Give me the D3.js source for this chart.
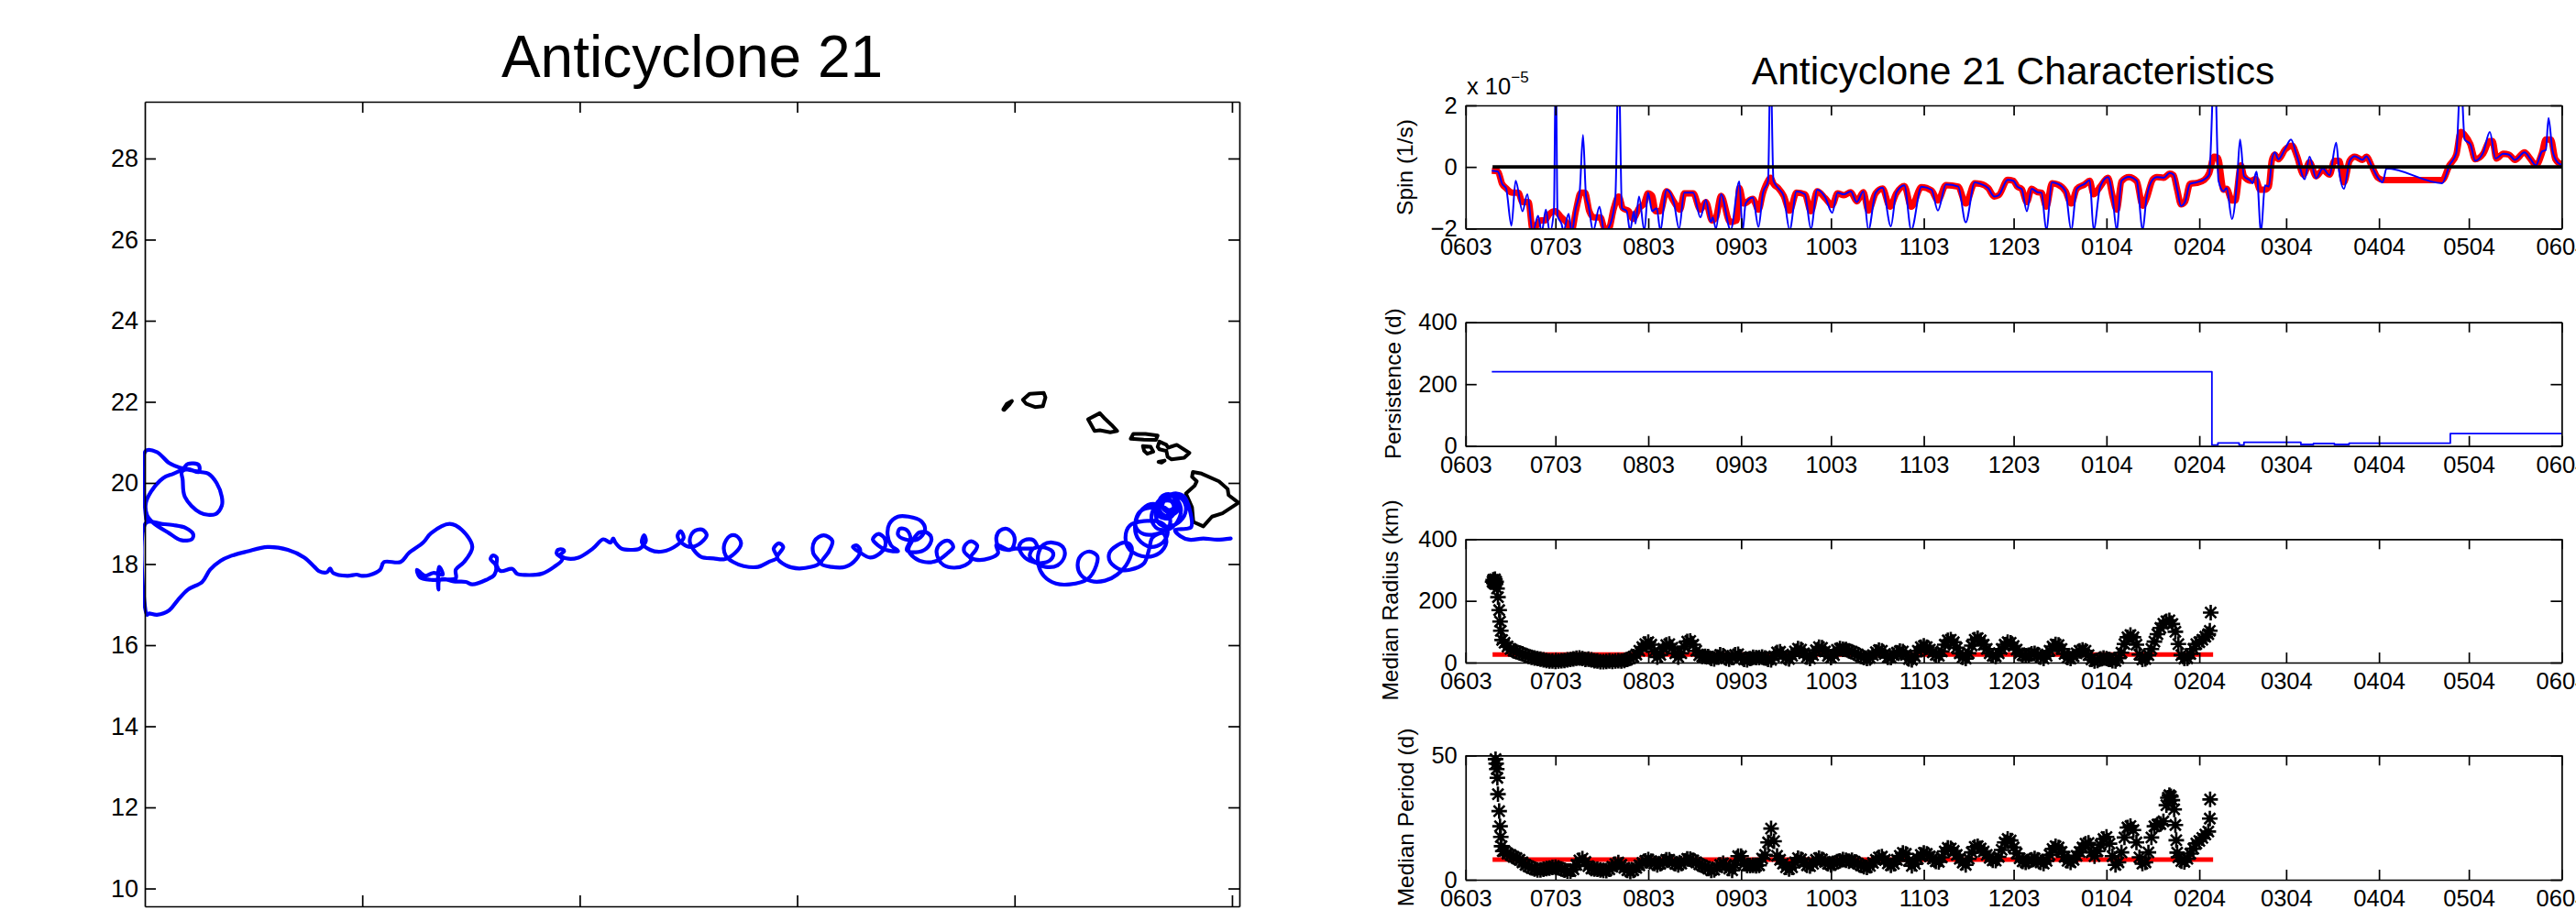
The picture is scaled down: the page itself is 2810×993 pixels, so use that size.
<!DOCTYPE html>
<html>
<head>
<meta charset="utf-8">
<script src="https://cdnjs.cloudflare.com/ajax/libs/d3/7.8.5/d3.min.js"></script>
<style>
  html, body { margin: 0; padding: 0; background: #fff; }
  svg { display: block; }
  text { font-family: "Liberation Sans", Arial, sans-serif; fill: #000; }
  .tick text { font-family: "Liberation Sans", Arial, sans-serif; font-size: 25.5px; }
  .map-axis .tick text { font-size: 27px; }
  .domain, .tick line { stroke: #000; stroke-width: 1.7px; }
</style>
</head>
<body>
<script>
// eddy track, degrees lon / lat, east end first
var trackLon = [-155.03,-155.34,-155.66,-155.98,-156.19,-156.31,-156.06,-155.94,-155.97,-156.10,-156.27,-156.51,-156.67,-156.75,-156.67,-156.43,-156.19,-156.06,-156.14,-156.39,-156.61,-156.79,-156.85,-156.71,-156.43,-156.21,-156.19,-156.35,-156.59,-156.75,-156.67,-156.43,-156.29,-156.43,-156.67,-156.40,-156.22,-156.26,-156.47,-156.62,-156.70,-156.60,-156.42,-156.30,-156.32,-156.47,-156.60,-156.56,-156.40,-156.34,-156.44,-156.58,-157.07,-157.19,-157.21,-157.03,-156.75,-156.47,-156.43,-156.59,-156.87,-157.11,-157.23,-157.15,-156.87,-156.59,-156.48,-156.63,-157.03,-157.35,-157.45,-157.35,-156.99,-156.67,-156.51,-156.59,-156.83,-156.91,-157.03,-157.35,-157.56,-157.80,-157.82,-157.64,-157.44,-157.31,-157.39,-157.64,-157.92,-158.24,-158.48,-158.55,-158.48,-158.28,-158.10,-158.12,-158.32,-158.73,-159.05,-159.33,-159.45,-159.45,-159.33,-159.13,-158.89,-158.85,-159.01,-159.29,-159.53,-159.65,-159.57,-159.37,-159.13,-159.13,-159.33,-159.65,-159.85,-159.89,-159.77,-159.57,-159.49,-159.98,-160.18,-160.36,-160.42,-160.34,-160.18,-160.02,-160.02,-160.10,-160.42,-160.38,-160.58,-160.90,-161.00,-160.89,-160.86,-161.00,-161.14,-161.16,-161.00,-161.14,-161.39,-161.63,-161.75,-161.79,-161.67,-161.51,-161.41,-161.55,-161.79,-162.07,-162.31,-162.44,-162.35,-162.19,-161.99,-161.91,-162.03,-162.27,-162.48,-162.39,-162.48,-162.64,-162.68,-162.52,-162.23,-162.06,-162.15,-162.44,-162.68,-162.88,-162.92,-162.84,-162.68,-162.96,-163.14,-163.26,-163.14,-163.00,-162.98,-163.10,-163.32,-163.56,-163.72,-163.64,-163.55,-163.64,-163.89,-164.21,-164.45,-164.27,-164.19,-164.39,-164.60,-164.63,-164.49,-164.94,-165.26,-165.46,-165.32,-165.42,-165.54,-165.46,-165.66,-165.90,-166.23,-166.47,-166.64,-166.68,-166.55,-166.39,-166.29,-166.43,-166.67,-166.92,-167.21,-167.38,-167.47,-167.38,-167.19,-167.08,-167.21,-167.44,-167.63,-167.75,-167.68,-167.61,-167.77,-168.10,-168.38,-168.57,-168.52,-168.48,-168.62,-168.81,-169.04,-169.18,-169.23,-169.29,-169.46,-169.70,-170.03,-170.31,-170.45,-170.36,-170.39,-170.50,-170.53,-170.40,-170.59,-170.88,-171.25,-171.44,-171.55,-171.82,-171.91,-171.91,-172.00,-172.05,-171.93,-171.96,-172.15,-172.47,-172.62,-172.90,-173.13,-173.23,-173.25,-173.26,-173.23,-173.15,-173.37,-173.56,-173.74,-173.68,-173.42,-173.09,-172.85,-172.85,-172.66,-172.47,-172.71,-172.99,-173.42,-173.60,-173.93,-174.12,-174.50,-174.59,-174.83,-175.01,-175.13,-175.34,-175.67,-175.74,-175.81,-176.00,-176.10,-176.33,-176.71,-177.18,-177.65,-178.02,-178.26,-178.50,-178.68,-179.01,-179.25,-179.44,-179.72,-179.91,-179.95,-179.97,-179.62,-179.34,-179.06,-178.89,-178.92,-179.17,-179.44,-179.81,-179.95,-179.98,-179.86,-179.58,-179.34,-179.13,-179.01,-178.76,-178.76,-179.01,-179.15,-179.13,-179.08,-178.73,-178.38,-178.23,-178.23,-178.35,-178.54,-178.73,-179.20,-179.44,-179.72,-179.98,-179.97];
var trackLat = [18.63,18.60,18.63,18.60,18.69,18.84,18.87,18.91,19.33,19.66,19.74,19.66,19.48,19.21,18.99,18.93,19.06,19.33,19.59,19.70,19.61,19.39,19.10,18.87,18.87,19.14,19.44,19.66,19.63,19.44,19.17,19.14,19.36,19.59,19.55,19.72,19.50,19.30,19.18,19.25,19.45,19.68,19.72,19.55,19.35,19.28,19.40,19.55,19.55,19.40,19.33,19.40,19.33,19.17,18.91,18.74,18.74,18.87,19.14,19.40,19.48,19.29,18.95,18.61,18.42,18.53,18.80,19.02,19.06,18.95,18.65,18.35,18.18,18.27,18.53,18.76,18.65,18.35,18.01,17.86,17.86,18.05,18.27,18.46,18.53,18.42,18.05,17.74,17.59,17.58,17.74,17.97,18.20,18.31,18.20,17.97,17.63,17.50,17.52,17.71,17.97,18.27,18.48,18.53,18.42,18.20,17.97,17.93,18.05,18.20,18.38,18.42,18.31,18.16,18.03,18.08,18.27,18.46,18.59,18.59,18.42,18.38,18.35,18.42,18.65,18.82,18.87,18.72,18.46,18.35,18.47,18.27,18.14,18.11,18.18,18.35,18.46,18.56,18.46,18.31,18.11,17.97,17.91,17.97,18.12,18.35,18.53,18.57,18.42,18.26,18.08,18.05,18.16,18.35,18.57,18.78,18.76,18.61,18.38,18.29,18.35,18.61,18.84,18.87,18.72,18.61,18.61,18.84,19.06,19.17,19.17,18.99,18.72,18.46,18.32,18.35,18.46,18.61,18.74,18.65,18.42,18.26,18.16,18.29,18.42,18.46,18.35,18.12,17.93,17.93,18.01,18.31,18.57,18.71,18.57,18.27,18.03,17.89,17.97,18.16,18.42,18.51,18.38,18.16,18.05,17.93,17.95,18.05,18.20,18.46,18.69,18.69,18.51,18.27,18.12,18.14,18.18,18.35,18.57,18.80,18.85,18.72,18.53,18.42,18.50,18.69,18.81,18.65,18.46,18.31,18.35,18.53,18.71,18.57,18.38,18.35,18.38,18.53,18.63,18.53,18.61,18.38,18.16,18.14,18.23,18.31,18.36,18.35,18.26,18.12,17.93,17.76,17.73,17.76,17.88,17.83,17.97,18.16,18.21,18.12,17.97,17.74,17.61,17.50,17.56,17.57,17.63,17.59,17.37,17.59,17.93,17.74,17.78,17.71,17.86,17.68,17.61,17.62,17.65,17.86,18.05,18.42,18.84,18.99,18.76,18.53,18.27,18.05,18.05,17.86,17.73,17.71,17.74,17.71,17.78,17.89,17.80,17.83,17.93,18.16,18.35,18.42,18.31,18.20,18.08,17.86,17.56,17.37,17.10,16.86,16.75,16.78,16.75,19.02,18.99,18.96,18.89,18.74,18.61,18.59,18.76,19.02,19.21,19.48,19.78,20.12,20.23,20.34,20.47,20.44,20.27,20.34,20.27,20.08,19.66,19.27,19.23,19.44,19.66,20.00,20.23,20.27,20.38,20.49,20.76,20.79,19.10];

// coastlines: Niihau, Kauai, Oahu, Molokai, Lanai, Maui, Kahoolawe, Hawaii
var islandLons = [
  [-160.26,-160.18,-160.06,-160.12,-160.24],
  [-159.81,-159.65,-159.33,-159.29,-159.35,-159.53,-159.73],
  [-158.31,-158.04,-157.92,-157.77,-157.64,-157.80,-158.04,-158.16],
  [-157.33,-157.27,-156.99,-156.71,-156.75,-157.03],
  [-157.05,-156.87,-156.81,-156.95,-157.02],
  [-156.71,-156.67,-156.51,-156.47,-156.27,-155.98,-156.10,-156.39,-156.48,-156.51,-156.67],
  [-156.69,-156.55,-156.62],
  [-155.90,-155.70,-155.30,-155.10,-155.08,-154.85,-155.22,-155.46,-155.66,-155.89,-155.92,-156.06,-155.86,-155.81,-155.92]
];
var islandLats = [
  [21.81,21.95,22.02,21.93,21.80],
  [22.05,22.20,22.22,22.11,21.89,21.87,21.95],
  [21.57,21.72,21.58,21.43,21.28,21.25,21.30,21.28],
  [21.09,21.21,21.21,21.17,21.06,21.07],
  [20.91,20.89,20.77,20.72,20.79],
  [20.89,21.02,20.94,20.87,20.94,20.74,20.62,20.58,20.64,20.79,20.83],
  [20.52,20.55,20.50],
  [20.27,20.23,20.04,19.85,19.70,19.51,19.25,19.17,18.93,19.04,19.40,19.74,19.93,20.04,20.15]
];

var mapLonTicks = [-175,-170,-165,-160,-155];
var mapLatTicks = [10,12,14,16,18,20,22,24,26,28];

// days since 1 June 2003
var monthDays = [0,30,61,92,122,153,183,214,245,274,305,335,366];
var monthLabels = ["0603","0703","0803","0903","1003","1103","1203","0104","0204","0304","0404","0504","0604"];

// spin, units of 1e-5 1/s
var spinDays = [8.75,10.8,12.2,13.5,15.3,16.7,19.0,20.6,22.4,24.2,25.4,26.8,28.1,29.5,30.1,30.7,32.0,32.7,34.4,35.4,36.8,38.1,39.2,40.2,41.0,42.6,44.7,46.3,48.4,50.0,51.1,52.2,53.8,54.9,56.2,56.7,57.9,59.7,60.9,62.3,63.8,65.0,67.1,69.6,71.3,73.0,76.0,78.4,80.2,81.9,82.5,83.6,85.3,88.5,91.4,92.5,93.5,95.9,97.8,99.3,101.0,101.8,102.8,104.4,106.2,108.2,110.5,113.3,115.3,117.4,120.1,122.4,124.2,126.3,128.6,130.6,132.8,134.5,136.9,139.2,142.0,143.8,146.5,148.8,152.2,155.6,157.7,160.4,164.5,167.0,170.0,171.9,174.5,176.5,178.0,181.0,182.9,184.2,185.7,187.4,189.0,190.9,192.3,193.9,195.8,197.7,200.3,202.2,204.1,206.7,208.4,209.7,211.9,214.5,216.0,217.4,219.0,221.5,224.1,226.1,227.3,229.5,230.8,233.1,235.1,236.4,237.6,238.9,240.2,241.9,244.1,246.7,248.3,250.1,251.4,253.1,254.1,255.9,257.6,258.6,259.9,262.1,262.8,264.1,265.6,266.9,268.2,269.2,270.2,271.4,273.7,275.6,277.6,280.2,281.8,284.0,286.2,288.5,290.7,291.7,293.3,295.2,296.9,299.5,300.8,302.7,304.6,306.2,307.5,326.1,328.5,330.8,332.3,333.6,335.5,337.1,339.8,342.0,343.9,346.5,348.4,350.4,353.6,355.5,357.4,359.4,360.7,361.6,362.9,364.6,366];
var spinValues = [-0.12,-0.15,-0.55,-0.69,-1.91,-0.45,-1.44,-0.89,-2.13,-1.59,-2.13,-1.39,-2.13,-1.39,3.5,-1.59,-1.84,-2.08,-1.52,-2.13,-1.34,-0.79,1.04,-0.94,-1.24,-2.08,-1.29,-2.13,-1.84,-0.99,3.5,-1.34,-1.44,-2.08,-1.44,-1.84,-0.96,-2.08,-0.84,-1.44,-1.34,-2.05,-0.74,-1.19,-2.01,-0.84,-0.84,-1.64,-1.07,-1.79,-1.64,-2.01,-0.89,-2.05,-0.47,-2.08,-1.19,-0.99,-1.95,-0.84,-0.45,3.5,-0.45,-0.69,-0.94,-2.05,-0.79,-0.89,-2.01,-0.74,-0.99,-1.49,-0.84,-0.89,-0.79,-1.14,-0.79,-2.05,-0.84,-0.67,-1.93,-0.84,-0.60,-2.05,-0.64,-0.74,-1.42,-0.57,-0.64,-1.80,-0.50,-0.55,-0.69,-0.96,-0.92,-0.42,-0.45,-0.64,-0.72,-1.44,-0.71,-0.82,-0.84,-2.05,-0.50,-0.55,-0.79,-2.05,-0.71,-0.55,-0.43,-2.05,-0.64,-0.33,-0.94,-2.05,-0.45,-0.32,-0.45,-2.05,-1.04,-0.40,-0.33,-0.35,-0.20,-0.25,-0.74,-1.27,-1.14,-0.55,-0.50,-0.40,-0.25,3.5,-0.45,-0.79,-0.69,-1.69,-0.45,0.89,-0.30,-0.45,-0.53,-0.15,-2.13,-0.60,-0.64,0.20,0.47,0.25,0.60,0.89,0.35,-0.40,0.33,-0.37,-0.05,-0.27,0.79,-0.15,-0.71,0.20,0.35,0.23,0.35,0,-0.35,-0.50,-0.05,-0.53,0.05,0.45,3,0.89,0.74,0.20,0.47,1.14,0.27,0.43,0.40,0.23,0.47,0.27,0.05,0.50,0.55,1.59,0.55,0.15,0.07];

// smoothed spin
var spinSmoothDays = [8.75,10.8,12.2,13.5,15.6,17.6,19.0,21.0,22.4,25.1,26.5,27.9,29.9,32.0,34.0,35.4,36.8,38.5,39.9,41.3,42.9,45.0,46.3,47.7,49.5,51.1,52.5,54.5,55.9,57.9,59.6,60.9,62.3,63.4,65.0,67.1,69.6,71.6,73.0,76.0,78.4,80.2,82.3,83.6,85.3,88.3,90.5,91.4,92.8,95.9,97.8,99.3,101.0,101.8,102.8,104.4,106.2,108.2,110.5,113.3,115.3,117.4,120.1,122.4,124.2,126.3,128.6,130.6,132.8,134.5,136.9,139.2,141.7,143.8,146.5,148.8,152.2,155.6,157.7,160.4,164.5,167.0,170.0,171.9,174.5,176.5,178.0,181.0,182.9,184.2,185.7,187.4,189.0,190.9,192.3,193.9,195.8,197.7,200.3,202.2,204.1,206.7,208.4,209.7,211.9,214.5,216.0,217.4,219.0,221.5,224.1,226.1,227.3,229.5,230.8,233.1,235.1,236.4,237.6,238.9,240.2,241.9,244.1,246.7,248.3,249.9,251.2,253.1,254.1,255.9,257,258.9,259.9,262.1,263.8,265.3,266.9,268.2,269.2,270.2,271.4,273.7,276.0,277.6,279.8,281.8,284.0,286.2,288.5,290.1,291.7,293.3,295.2,296.9,299.5,300.8,302.7,304.6,306.5,326.1,328.5,330.8,332.3,333.6,335.5,337.1,339.8,342.0,342.9,344.2,346.5,348.4,350.4,353.6,355.5,357.4,359.4,360.7,362.4,363.9,366];
var spinSmoothValues = [-0.12,-0.15,-0.55,-0.69,-0.84,-0.84,-1.14,-1.14,-2.05,-1.74,-1.74,-1.54,-1.44,-1.64,-1.84,-2.08,-1.44,-0.84,-0.84,-1.44,-1.64,-1.64,-1.98,-2.03,-1.34,-0.96,-1.34,-1.44,-1.69,-1.34,-1.19,-0.86,-0.94,-1.44,-1.44,-0.79,-1.14,-1.39,-0.86,-0.86,-1.39,-1.14,-1.74,-1.64,-0.94,-1.79,-1.74,-0.69,-1.19,-1.04,-1.39,-0.84,-0.45,-0.35,-0.55,-0.69,-0.94,-1.42,-0.84,-0.89,-1.44,-0.79,-1.02,-1.24,-0.86,-0.92,-0.82,-1.12,-0.82,-1.42,-0.86,-0.70,-1.29,-0.86,-0.62,-1.29,-0.66,-0.77,-1.09,-0.59,-0.64,-1.19,-0.53,-0.55,-0.69,-0.96,-0.92,-0.42,-0.45,-0.64,-0.72,-1.14,-0.71,-0.82,-0.84,-1.29,-0.53,-0.57,-0.79,-1.19,-0.71,-0.57,-0.45,-0.89,-0.64,-0.35,-0.94,-1.39,-0.47,-0.33,-0.47,-1.26,-1.04,-0.40,-0.33,-0.35,-0.22,-0.27,-0.74,-1.22,-1.14,-0.55,-0.52,-0.42,-0.20,0.33,0.30,-0.74,-0.71,-1.09,-1.09,0.05,-0.30,-0.45,-0.40,-0.74,-0.74,-0.64,0.20,0.40,0.25,0.57,0.69,0.35,-0.25,0.15,-0.30,-0.10,-0.25,0.20,0.20,-0.50,0.20,0.33,0.23,0.33,0,-0.35,-0.43,-0.43,0.05,0.40,1.14,1.04,0.74,0.25,0.43,0.84,0.84,0.27,0.43,0.40,0.23,0.47,0.27,0.05,0.45,0.89,0.89,0.25,0.07];

var zeroLineDays = [9,366];

// persistence (d), each value holds until the next day entry
var persistDays = [8.75,249.2,251.2,258.3,259.9,278.9,283.1,290.1,295,328.8,366];
var persistValues = [240,3,10,3,12,5,8,5,9,40,40];

// median radius (km)
var radiusDays = [9.0,9.2,9.4,9.6,9.8,10.0,10.2,10.5,10.8,11.2,11.5,11.75,12.2].concat(d3.range(13,249)).concat([248.5,248.8]);
var radiusValues = [262,268,258,266,270,255,262,240,212,170,133,103,73,
  64,52,44,38,35,31,28,24,20,17,15,13,11,9,7,5,5,4,5,6,7,9,10,12,14,15,13,10,11,9,6,5,3,3,4,5,4,5,6,5,7,10,14,19,26,38,50,60,66,58,36,18,25,45,57,60,48,30,18,30,52,68,70,58,38,24,20,20,19,13,12,18,25,22,14,11,16,25,27,18,10,9,13,17,16,16,18,15,10,9,20,33,35,26,15,12,22,36,45,42,30,18,13,24,40,50,48,36,22,16,24,41,45,43,42,38,35,30,26,20,16,13,15,24,34,40,38,28,17,16,24,32,37,36,25,12,9,20,38,50,54,50,42,33,25,22,36,58,72,74,66,48,30,17,13,30,55,74,79,72,58,44,30,22,20,30,44,58,66,64,54,42,30,24,22,24,28,30,26,18,13,22,38,52,59,57,44,28,16,13,20,30,38,41,38,24,10,5,7,12,15,13,10,6,5,14,32,60,82,89,82,58,26,10,12,24,44,68,92,112,126,134,137,125,100,60,24,13,14,28,44,60,66,74,84,92,
  103,162];
var radiusMedianDays = [9,249.6];
var radiusMedianValues = [26,26];

// median period (d)
var periodDays = [10.0,10.2,10.4,10.6,10.8,11.2,11.5,11.75,12.0,12.4].concat(d3.range(13,234)).concat([234,234.5,235,235.5,236,236.6,237,237.3,237.6,238,239,240,241,242,243,244,245,246,247,248,248.5,248.6]);
var periodValues = [48.5,46.7,44.5,41,34.4,27.6,21.5,17.2,13.5,11.5,
  11.5,10.5,10,9.2,8.7,8,7,6,5.4,4.8,4.3,4,4,4.2,4.5,4.7,5,5.1,4.8,4.3,3.9,3.5,3.5,4.2,6,7.8,8.5,7.2,5.5,4.5,4.3,4.2,4,3.8,3.7,4.2,5.2,6.3,6.9,6,4.8,3.8,3.3,3.8,4.8,5.8,6.8,7.6,8.1,7.5,6.5,6,6.4,7.2,8,8,7.2,6.4,6,6.5,7.6,8.4,8.3,7.8,7,6.2,5.7,5.2,4.5,3.8,4,5,6,6.6,5.8,4.5,3.8,6,9.5,9.5,6.4,5.7,5.7,5.8,5.6,5.8,8.5,10,15,20.6,15.5,9.6,8,6.5,5,4.3,5,7,8.7,8.2,7,5.8,5.5,6.4,8,8.7,8.2,7.2,6.4,6,6.6,7.3,7.6,8.1,7.8,7.5,7.8,7.2,6.5,5.8,5.2,5,5.6,6.8,8,9,9.3,8,6.6,5.8,6.4,8,9.6,10.8,10.4,7.6,5.6,6.4,8.4,10,10.8,10.4,9.4,8.4,7.4,7.2,9,11.4,12.8,12.6,11.6,10,8.4,6.9,6,8.4,11,13.2,13.5,12.6,11.4,10,8.8,7.8,7.7,9.2,12,15,16.4,15.8,13,10.6,8.6,7.4,7,7.4,8,8.6,8,7,6.5,7.6,10,12.4,13.5,13,11.2,9.2,7.6,7,8,9.6,11.2,13,14.5,14.8,11,9.5,11.5,14,16.4,17.2,14.5,9.5,6,7,11,17,21,21.6,20,15,9,6.5,7,11,17,21.5,22.2,22.4,23.5,
  30,33,34,33.5,32,28.3,22,15.9,10.9,9,7.5,7.2,8.4,10.5,12.5,14.6,15.6,16.8,18.2,19.4,24.6,32.3];
var periodMedianDays = [9,249.6];
var periodMedianValues = [8.1,8.1];

var width = 2810, height = 993;

var svg = d3.select("body").append("svg")
    .attr("width", width)
    .attr("height", height);

svg.append("rect").attr("width", width).attr("height", height).attr("fill", "#fff");

drawMap();

// right hand panels
var panelLeft = 1598.75, panelRight = 2794.4;
var x_scale = d3.scaleLinear().domain([0, 366]).range([panelLeft, panelRight]);

var spin = makePanel(115, 249.3, [-2, 2], [-2, 0, 2], "Spin (1/s)", 1541, 182.5);
var persist = makePanel(351.7, 486.7, [0, 400], [0, 200, 400], "Persistence (d)", 1528, 418.6);
var radius = makePanel(588.3, 723, [0, 400], [0, 200, 400], "Median Radius (km)", 1525, 655);
var period = makePanel(824.3, 960, [0, 50], [0, 50], "Median Period (d)", 1542, 892);

svg.append("text")
    .attr("x", 2196)
    .attr("y", 92)
    .attr("text-anchor", "middle")
    .style("font-size", "42.6px")
    .text("Anticyclone 21 Characteristics");

// exponent above the spin axis
var expo = svg.append("text").attr("x", 1600).attr("y", 103).style("font-size", "25.5px");
expo.append("tspan").text("x 10");
expo.append("tspan").attr("dy", -13).style("font-size", "17px").text("\u22125");

// spin lines
drawLine(spin, spinSmoothDays, spinSmoothValues, "#f00", 7, d3.curveMonotoneX);
drawLine(spin, spinDays, spinValues, "#00f", 2, d3.curveMonotoneX);
drawLine(spin, zeroLineDays, [0, 0], "#000", 3.6);

// persistence steps
drawLine(persist, persistDays, persistValues, "#00f", 1.8, d3.curveStepAfter);

// radius and period stars sit on top of their red median lines
drawLine(radius, radiusMedianDays, radiusMedianValues, "#f00", 5);
drawStars(radius, radiusDays, radiusValues);
drawLine(period, periodMedianDays, periodMedianValues, "#f00", 5);
drawStars(period, periodDays, periodValues);

function drawMap() {
  var left = 158, right = 1352, top = 111, bottom = 989;

  var lon_scale = d3.scaleLinear().domain([-180, -154.83]).range([left, right]);
  var lat_scale = d3.scaleLinear().domain([9.56, 29.4]).range([bottom, top]);

  svg.append("text")
      .attr("x", 755)
      .attr("y", 84)
      .attr("text-anchor", "middle")
      .style("font-size", "64px")
      .text("Anticyclone 21");

  svg.append("clipPath").attr("id", "map-clip")
    .append("rect")
      .attr("x", left - 2).attr("y", top)
      .attr("width", right - left + 4).attr("height", bottom - top);

  var g = svg.append("g").attr("clip-path", "url(#map-clip)");

  // coastlines
  var coast = d3.line()
      .x(function(d) { return lon_scale(d[0]); })
      .y(function(d) { return lat_scale(d[1]); })
      .curve(d3.curveLinearClosed);

  islandLons.forEach(function(lons, i) {
    g.append("path")
        .attr("d", coast(d3.zip(lons, islandLats[i])))
        .attr("fill", "none")
        .attr("stroke", "#000")
        .attr("stroke-width", 4)
        .attr("stroke-linejoin", "round");
  });

  // track
  var track = d3.line()
      .x(function(d) { return lon_scale(d[0]); })
      .y(function(d) { return lat_scale(d[1]); })
      .curve(d3.curveCatmullRom.alpha(0.5));

  g.append("path")
      .attr("d", track(d3.zip(trackLon, trackLat)))
      .attr("fill", "none")
      .attr("stroke", "#00f")
      .attr("stroke-width", 4.2)
      .attr("stroke-linejoin", "round")
      .attr("stroke-linecap", "round");

  // box with ticks on all four sides, only the left side labelled
  var axes = svg.append("g").attr("class", "map-axis");
  axes.append("g").attr("transform", "translate(" + left + ",0)")
      .call(d3.axisLeft(lat_scale).tickValues(mapLatTicks).tickSizeInner(-12).tickSizeOuter(0).tickPadding(7).tickFormat(d3.format("d")));
  axes.append("g").attr("transform", "translate(" + right + ",0)")
      .call(d3.axisRight(lat_scale).tickValues(mapLatTicks).tickSizeInner(-12).tickSizeOuter(0).tickFormat(""));
  axes.append("g").attr("transform", "translate(0," + top + ")")
      .call(d3.axisTop(lon_scale).tickValues(mapLonTicks).tickSizeInner(-12).tickSizeOuter(0).tickFormat(""));
  axes.append("g").attr("transform", "translate(0," + bottom + ")")
      .call(d3.axisBottom(lon_scale).tickValues(mapLonTicks).tickSizeInner(-12).tickSizeOuter(0).tickFormat(""));
}

function makePanel(top, bottom, domain, ticks, label, labelX, labelY) {
  var y_scale = d3.scaleLinear().domain(domain).range([bottom, top]);
  var id = "clip" + Math.round(top);

  svg.append("clipPath").attr("id", id)
    .append("rect")
      .attr("x", panelLeft).attr("y", top)
      .attr("width", panelRight - panelLeft).attr("height", bottom - top);

  // lines go in here, stars in the unclipped group
  var lines = svg.append("g").attr("clip-path", "url(#" + id + ")");
  var stars = svg.append("g");

  var axes = svg.append("g");
  axes.append("g").attr("transform", "translate(0," + bottom + ")")
      .call(d3.axisBottom(x_scale).tickValues(monthDays).tickSizeInner(-11).tickSizeOuter(0).tickPadding(11)
        .tickFormat(function(d, i) { return monthLabels[i]; }));
  axes.append("g").attr("transform", "translate(0," + top + ")")
      .call(d3.axisTop(x_scale).tickValues(monthDays).tickSizeInner(-11).tickSizeOuter(0).tickFormat(""));
  axes.append("g").attr("transform", "translate(" + panelLeft + ",0)")
      .call(d3.axisLeft(y_scale).tickValues(ticks).tickSizeInner(-12).tickSizeOuter(0).tickPadding(9).tickFormat(d3.format("d")));
  axes.append("g").attr("transform", "translate(" + panelRight + ",0)")
      .call(d3.axisRight(y_scale).tickValues(ticks).tickSizeInner(-12).tickSizeOuter(0).tickFormat(""));

  svg.append("text")
      .attr("transform", "translate(" + labelX + "," + labelY + ") rotate(-90)")
      .attr("text-anchor", "middle")
      .style("font-size", "24.5px")
      .text(label);

  return { y: y_scale, lines: lines, stars: stars };
}

function drawLine(panel, days, values, color, w, curve) {
  var line = d3.line()
      .x(function(d) { return x_scale(d[0]); })
      .y(function(d) { return panel.y(d[1]); })
      .curve(curve || d3.curveLinear);

  panel.lines.append("path")
      .attr("d", line(d3.zip(days, values)))
      .attr("fill", "none")
      .attr("stroke", color)
      .attr("stroke-width", w)
      .attr("stroke-linejoin", "round");
}

function drawStars(panel, days, values) {
  // eight armed matlab style asterisk
  var asterisk = {
    draw: function(context, size) {
      var r = Math.sqrt(size), k = r * Math.SQRT1_2;
      context.moveTo(-r, 0); context.lineTo(r, 0);
      context.moveTo(0, -r); context.lineTo(0, r);
      context.moveTo(-k, -k); context.lineTo(k, k);
      context.moveTo(-k, k); context.lineTo(k, -k);
    }
  };
  var symbol = d3.symbol().type(asterisk).size(72);

  panel.stars.selectAll("path")
      .data(d3.zip(days, values))
    .enter().append("path")
      .attr("transform", function(d) { return "translate(" + x_scale(d[0]) + "," + panel.y(d[1]) + ")"; })
      .attr("d", symbol)
      .attr("fill", "none")
      .attr("stroke", "#000")
      .attr("stroke-width", 2.6);
}
</script>
</body>
</html>
